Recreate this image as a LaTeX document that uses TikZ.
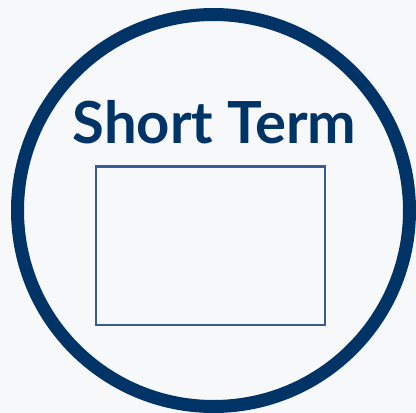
\documentclass[tikz,border=0pt]{standalone}
\usepackage{fontspec}
\setmainfont{Lato}
\definecolor{navy}{HTML}{003366}
\definecolor{boxblue}{HTML}{3A5A99}
\definecolor{paper}{HTML}{F6F8FA}
\begin{document}
\begin{tikzpicture}[x=1pt,y=-1pt,
  ring/.style={draw=navy, line width=13pt, circle, minimum size=392pt, inner sep=0pt},
  termbox/.style={draw=boxblue, line width=2.5pt, minimum width=229pt, minimum height=158.5pt, inner sep=0pt},
  title/.style={text=navy, font=\fontsize{58}{62}\selectfont\bfseries, inner sep=0pt}]
\fill[paper] (0,0) rectangle (416,413);
\useasboundingbox (0,0) rectangle (416,413);
\node[ring] (ring) at (213.5,210.5) {};
\node[title, anchor=base] (term) at (214.5,143) {Short Term};
\node[termbox] (box) at (210.5,245.75) {};
\end{tikzpicture}
\end{document}
